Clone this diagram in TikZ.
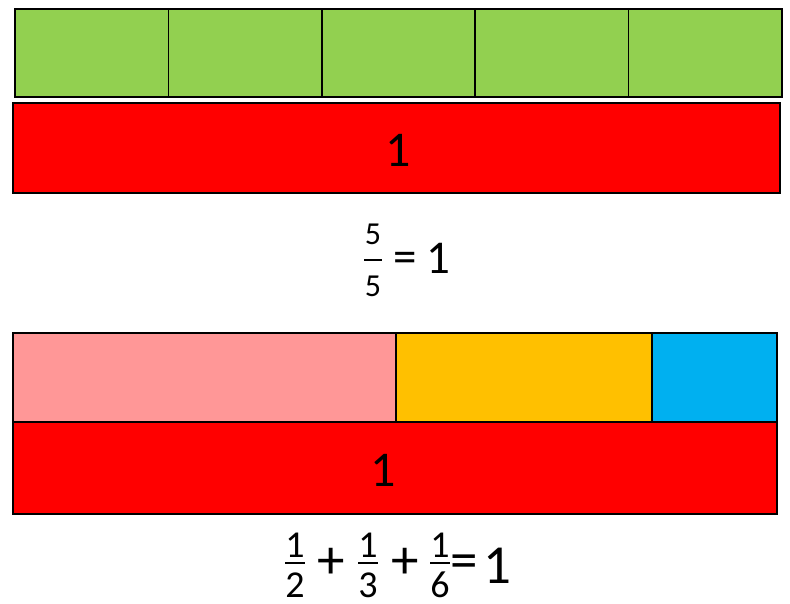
\documentclass[tikz,border=0pt]{standalone}
\usepackage{fontspec}
\setmainfont{Carlito}
\definecolor{cgreen}{HTML}{92D050}
\definecolor{cred}{HTML}{FF0000}
\definecolor{cpink}{HTML}{FF9797}
\definecolor{cyellow}{HTML}{FFC000}
\definecolor{cblue}{HTML}{00B0F0}
\begin{document}
\begin{tikzpicture}[x=1pt,y=-1pt,
  cell/.style={draw=black,line width=1.6pt,anchor=north west,inner sep=0pt,outer sep=0pt},
  big/.style={font=\fontsize{50}{55}\selectfont,inner sep=0pt},
  fd1/.style={font=\fontsize{32}{34}\selectfont,anchor=base,inner sep=0pt},
  fd2/.style={font=\fontsize{38}{40}\selectfont,anchor=base,inner sep=0pt},
  op1/.style={font=\fontsize{47}{50}\selectfont,inner sep=0pt},
  op2/.style={font=\fontsize{55}{58}\selectfont,inner sep=0pt},
  fbar/.style={line width=2.6pt}]
\useasboundingbox (0,0) rectangle (790,604);
% top group
\foreach \i in {0,...,4} {
  \node[cell,fill=cgreen,minimum width=153.4pt,minimum height=88pt] (g\i) at ({15+153.4*\i},9) {};
}
\node[cell,fill=cred,minimum width=767pt,minimum height=90pt] (r1) at (13,103) {};
\node[big] (one1) at (398,150) {1};
% equation 5/5 = 1
\node[fd1] (n1) at (373,245) {5};
\node[fd1] (d1) at (373,296) {5};
\draw[fbar] (364,260) -- (382,260);
\node[op1] (eqs1) at (405,262) {=};
\node[op1,anchor=base] (res1) at (438,273) {1};
% bottom group
\node[cell,fill=cpink,minimum width=383pt,minimum height=89pt] (p) at (13,333) {};
\node[cell,fill=cyellow,minimum width=256pt,minimum height=89pt] (y) at (396,333) {};
\node[cell,fill=cblue,minimum width=125pt,minimum height=89pt] (b) at (652,333) {};
\node[cell,fill=cred,minimum width=764pt,minimum height=92pt] (r2) at (13,422) {};
\node[big] (one2) at (383,470) {1};
% equation 1/2 + 1/3 + 1/6 = 1
\node[fd2] (na) at (295,557) {1};
\node[fd2] (da) at (295,597) {2};
\draw[fbar] (285,563) -- (305,563);
\node[op2] (plus1) at (331,563) {+};
\node[fd2] (nb) at (368,557) {1};
\node[fd2] (db) at (368,597) {3};
\draw[fbar] (358,563) -- (378,563);
\node[op2] (plus2) at (405,563) {+};
\node[fd2] (nc) at (440,557) {1};
\node[fd2] (dc) at (440,597) {6};
\draw[fbar] (430,563) -- (450,563);
\node[op2] (eqs2) at (464,567) {=};
\node[op2,anchor=base] (res2) at (497,583) {1};
\end{tikzpicture}
\end{document}
